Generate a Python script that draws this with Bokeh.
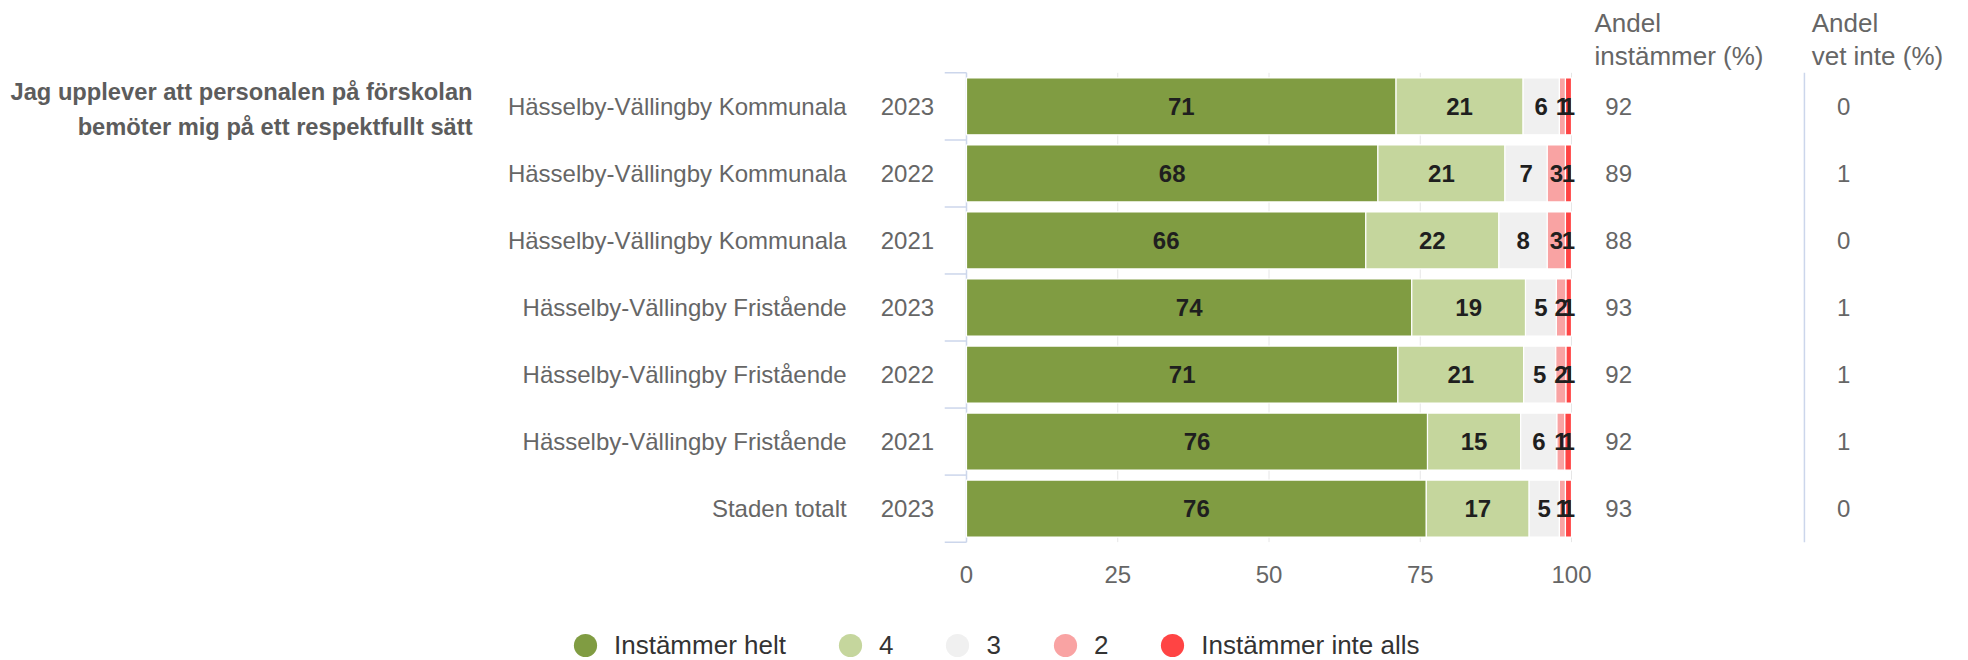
from bokeh.plotting import figure
from bokeh.layouts import column
from bokeh.models import ColumnDataSource, Range1d, FixedTicker, Label, Legend, LegendItem
from bokeh.core.properties import value
from bokeh.embed import file_html
from bokeh.resources import INLINE

# ---------------- data ----------------
question = ["Jag upplever att personalen på förskolan", "bemöter mig på ett respektfullt sätt"]
units = ["Hässelby-Vällingby Kommunala", "Hässelby-Vällingby Kommunala", "Hässelby-Vällingby Kommunala",
         "Hässelby-Vällingby Fristående", "Hässelby-Vällingby Fristående", "Hässelby-Vällingby Fristående",
         "Staden totalt"]
years = ["2023", "2022", "2021", "2023", "2022", "2021", "2023"]
categories = ["Instämmer helt", "4", "3", "2", "Instämmer inte alls"]
instammer_helt = [71, 68, 66, 73.6, 71.3, 76.2, 76]
svar_4 = [21, 21, 22, 18.8, 20.8, 15.4, 17]
svar_3 = [6, 7, 8, 5.1, 5.3, 6.0, 5]
svar_2 = [1, 3, 3, 1.6, 1.7, 1.3, 1]
instammer_inte_alls = [1, 1, 1, 0.9, 0.9, 1.1, 1]
andel_instammer = [92, 89, 88, 93, 92, 92, 93]
andel_vet_inte = [0, 1, 0, 1, 1, 1, 0]
x_ticks = [0, 25, 50, 75, 100]
header_1 = ["Andel", "instämmer (%)"]
header_2 = ["Andel", "vet inte (%)"]

# ---------------- style ----------------
colors = ["#809c42", "#c5d69d", "#f0f0f0", "#f9a3a3", "#ff4444"]
FONT = "Liberation Sans"
GRAY = "#666666"
AXIS = "#ccd6eb"

W = 1968
MAIN_H, FRAME_H, LEG_H = 600, 545, 60
n = len(units)

p = figure(width=W, height=MAIN_H, output_backend="svg", toolbar_location=None, title=None,
           x_range=Range1d(-159.67, 165.62), y_range=Range1d(7.0503, -1.0792),
           y_axis_location=None, min_border_left=0, min_border_right=0,
           min_border_top=0, min_border_bottom=MAIN_H - FRAME_H)
p.outline_line_color = None
p.background_fill_color = "white"
p.border_fill_color = "white"
p.xgrid.visible = False
p.ygrid.visible = False

# x axis
ax = p.xaxis[0]
ax.ticker = FixedTicker(ticks=x_ticks)
ax.axis_line_color = None
ax.major_tick_line_color = None
ax.minor_tick_line_color = None
ax.major_tick_out = 0
ax.major_tick_in = 0
ax.major_label_standoff = 20
ax.major_label_text_font = FONT
ax.major_label_text_font_size = "24px"
ax.major_label_text_color = GRAY

# vertical grid lines over the band area
p.segment(x0=x_ticks, y0=[0] * len(x_ticks), x1=x_ticks, y1=[n] * len(x_ticks),
          line_color="#e6e6e6", line_width=1)

# left category axis line and ticks (band boundaries)
bounds = list(range(n + 1))
p.segment(x0=[0] * len(bounds), y0=bounds, x1=[-3.6] * len(bounds), y1=bounds,
          line_color=AXIS, line_width=1.5)
p.segment(x0=[0], y0=[0], x1=[0], y1=[n], line_color=AXIS, line_width=1.5)

# stacked bars
ys = [i + 0.5 for i in range(n)]
series = [instammer_helt, svar_4, svar_3, svar_2, instammer_inte_alls]
left = [0.0] * n
label_sources = []
for k, vals in enumerate(series):
    right = [l + v for l, v in zip(left, vals)]
    src = ColumnDataSource(dict(y=ys, left=left, right=right,
                                mid=[(l + r) / 2 for l, r in zip(left, right)],
                                lab=[str(round(v)) for v in vals]))
    p.hbar(y="y", left="left", right="right", height=0.85, source=src,
           fill_color=colors[k], line_color="white", line_width=1.2)
    label_sources.append(src)
    left = right

for src in label_sources:
    p.text(x="mid", y="y", text="lab", source=src, text_align="center", text_baseline="middle",
           text_font=value(FONT), text_font_size="24px", text_font_style="bold", text_color="#1f1f1f")

# category labels
cat_src = ColumnDataSource(dict(y=ys, unit=units, year=years,
                                a1=[str(v) for v in andel_instammer],
                                a2=[str(v) for v in andel_vet_inte]))
p.text(x=-19.8, y="y", text="unit", source=cat_src, text_align="right", text_baseline="middle",
       text_font=value(FONT), text_font_size="24px", text_color=GRAY)
p.text(x=-5.35, y="y", text="year", source=cat_src, text_align="right", text_baseline="middle",
       text_font=value(FONT), text_font_size="24px", text_color=GRAY)

# right columns
p.text(x=107.8, y="y", text="a1", source=cat_src, text_align="center", text_baseline="middle",
       text_font=value(FONT), text_font_size="24px", text_color=GRAY)
p.text(x=145.0, y="y", text="a2", source=cat_src, text_align="center", text_baseline="middle",
       text_font=value(FONT), text_font_size="24px", text_color=GRAY)
p.segment(x0=[138.5], y0=[0], x1=[138.5], y1=[n], line_color=AXIS, line_width=1.5)

# headers
for txt, yy in zip(header_1, [-0.751, -0.258]):
    p.add_layout(Label(x=103.8, y=yy, text=txt, text_align="left", text_baseline="middle",
                       text_font=FONT, text_font_size="26px", text_color=GRAY))
for txt, yy in zip(header_2, [-0.751, -0.258]):
    p.add_layout(Label(x=139.7, y=yy, text=txt, text_align="left", text_baseline="middle",
                       text_font=FONT, text_font_size="26px", text_color=GRAY))

# question title
for txt, yy in zip(question, [0.293, 0.815]):
    p.add_layout(Label(x=-81.65, y=yy, text=txt, text_align="right", text_baseline="middle",
                       text_font=FONT, text_font_size="23.7px", text_font_style="bold",
                       text_color="#5c5c5c"))

# legend (own strip below the chart)
pl = figure(width=W, height=LEG_H, output_backend="svg", toolbar_location=None, title=None,
            x_range=Range1d(0, 1), y_range=Range1d(0, 1), x_axis_location=None, y_axis_location=None,
            min_border_left=0, min_border_right=0, min_border_top=0, min_border_bottom=0)
pl.outline_line_color = None
pl.xgrid.visible = False
pl.ygrid.visible = False
items = []
for k, cat in enumerate(categories):
    # one point outside the visible range so the legend can draw the swatch
    r = pl.scatter(x=[-5], y=[-5], marker="circle", size=23, fill_color=colors[k], line_color=None)
    items.append(LegendItem(label=cat, renderers=[r], index=0))
legend = Legend(items=items, orientation="horizontal", location=(556, -14),
                glyph_width=58, glyph_height=58, label_standoff=0, spacing=35,
                label_width=0, padding=0, margin=0, border_line_color=None,
                background_fill_alpha=0, label_text_font=FONT, label_text_font_size="26px",
                label_text_color="#333333")
pl.add_layout(legend)

layout = column(p, pl, spacing=0)
open("out.html", "w").write(file_html(layout, INLINE))
